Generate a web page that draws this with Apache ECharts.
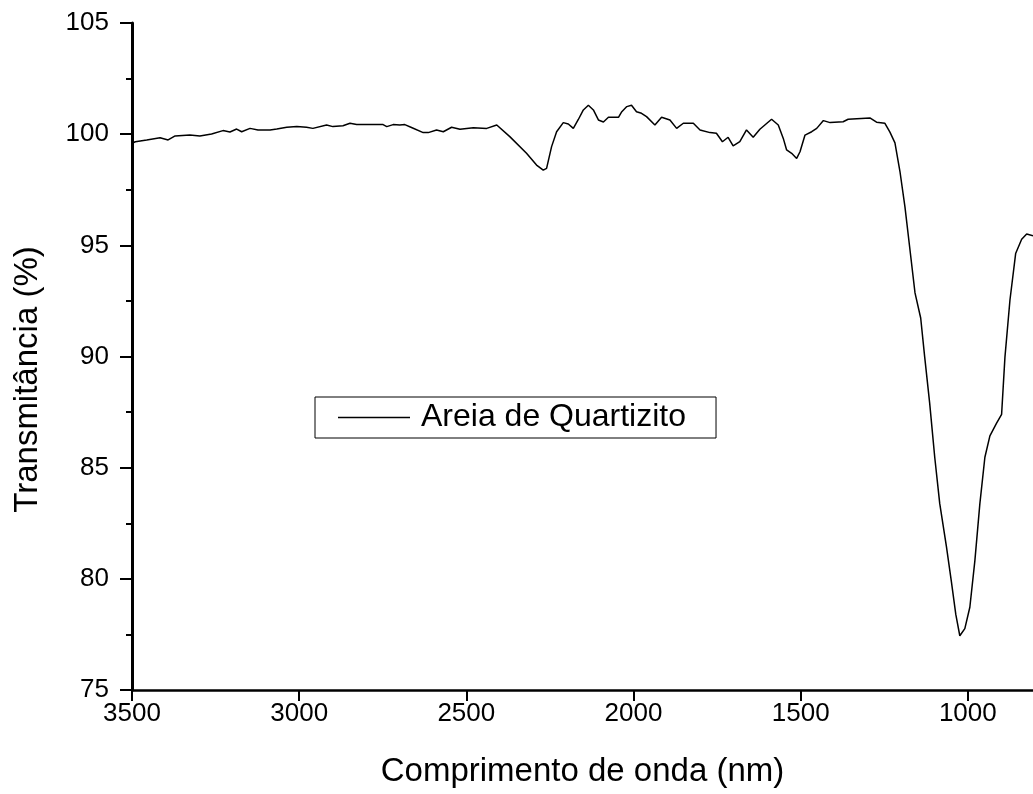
<!DOCTYPE html>
<html>
<head>
<meta charset="utf-8">
<script src="https://cdn.jsdelivr.net/npm/echarts@6/dist/echarts.min.js"></script>
<style>
  html, body { margin: 0; padding: 0; background: #fff; overflow: hidden; }
  #chart { width: 1033px; height: 794px; }
</style>
</head>
<body>
<div id="chart"></div>
<script>
// FTIR-style transmittance spectrum of quartzite sand
const seriesName = 'Areia de Quartizito';
const xTitle = 'Comprimento de onda (nm)';
const yTitle = 'Transmitância (%)';

const wavelength = [
  3500, 3490, 3456, 3416, 3392, 3371, 3327, 3297, 3262, 3228, 3207, 3187, 3172, 3147, 3123,
  3087, 3067, 3037, 3007, 2978, 2959, 2918, 2899, 2869, 2848, 2828, 2749, 2738, 2719, 2699,
  2684, 2664, 2629, 2614, 2589, 2569, 2544, 2519, 2479, 2439, 2409, 2370, 2320, 2290, 2270,
  2260, 2245, 2230, 2210, 2195, 2180, 2165, 2150, 2135, 2120, 2105, 2090, 2075, 2045, 2035,
  2020, 2006, 1991, 1976, 1961, 1936, 1916, 1891, 1871, 1851, 1821, 1801, 1771, 1752, 1734,
  1717, 1702, 1682, 1662, 1642, 1622, 1587, 1567, 1552, 1542, 1527, 1512, 1502, 1487, 1467,
  1452, 1432, 1412, 1373, 1358, 1293, 1273, 1248, 1233, 1218, 1203, 1188, 1173, 1158, 1141,
  1129, 1114, 1099, 1084, 1064, 1049, 1036, 1024, 1009, 994, 979, 964, 949, 934, 914,
  899, 889, 874, 857, 839, 824, 805
];

const transmittance = [
  99.59, 99.66, 99.74, 99.84, 99.74, 99.92, 99.96, 99.92, 100.01, 100.16, 100.10, 100.23, 100.11, 100.26, 100.19,
  100.19, 100.23, 100.31, 100.34, 100.31, 100.26, 100.41, 100.34, 100.38, 100.49, 100.43, 100.43, 100.34, 100.43, 100.41,
  100.43, 100.30, 100.07, 100.07, 100.19, 100.11, 100.31, 100.22, 100.29, 100.26, 100.41, 99.89, 99.14, 98.61, 98.38,
  98.46, 99.44, 100.11, 100.52, 100.46, 100.26, 100.66, 101.09, 101.30, 101.09, 100.64, 100.55, 100.76, 100.76, 101.01,
  101.24, 101.30, 101.01, 100.94, 100.79, 100.41, 100.76, 100.64, 100.26, 100.49, 100.49, 100.19, 100.07, 100.04, 99.66,
  99.86, 99.47, 99.66, 100.19, 99.86, 100.22, 100.67, 100.41, 99.81, 99.29, 99.14, 98.91, 99.21, 99.96, 100.11,
  100.26, 100.61, 100.52, 100.56, 100.67, 100.73, 100.54, 100.49, 100.09, 99.61, 98.32, 96.72, 94.79, 92.86, 91.73,
  89.97, 87.88, 85.47, 83.38, 81.45, 79.85, 78.40, 77.44, 77.76, 78.72, 80.81, 83.38, 85.47, 86.43, 87.00,
  87.40, 89.97, 92.54, 94.63, 95.27, 95.51, 95.43
];

const xTicks = { min: 500, max: 3500, step: 500 };
const yTicks = { min: 75, max: 105, step: 5 };

const points = wavelength.map((w, i) => [w, transmittance[i]]);

const FONT = '"Liberation Sans", Arial, sans-serif';
const plainNumber = (v) => String(v);
const chart = echarts.init(document.getElementById('chart'), null, { renderer: 'canvas' });

chart.setOption({
  animation: false,
  backgroundColor: '#ffffff',
  grid: {
    left: 132, top: 23, width: 1003, height: 667,
    containLabel: false,
    outerBoundsMode: 'none'
  },
  legend: {
    data: [{ name: seriesName, icon: 'rect' }],
    left: 315,
    top: 397,
    orient: 'horizontal',
    itemWidth: 72,
    itemHeight: 1.5,
    padding: [4, 30, 4, 23],
    borderColor: '#000',
    borderWidth: 1,
    backgroundColor: '#fff',
    itemStyle: { color: '#000', borderWidth: 0 },
    textStyle: { fontFamily: FONT, fontSize: 32, color: '#000', lineHeight: 33, padding: [0, 0, 0, 6] }
  },
  xAxis: {
    type: 'value',
    inverse: true,
    min: xTicks.min,
    max: xTicks.max,
    interval: xTicks.step,
    name: xTitle,
    nameLocation: 'middle',
    nameGap: 65,
    // the visible plot stops at the page edge, so centre the title on that part
    nameTextStyle: { fontFamily: FONT, fontSize: 33, color: '#000', padding: [0, 102, 0, 0] },
    axisLine: { show: true, lineStyle: { color: '#000', width: 2.5 } },
    axisTick: { show: true, inside: false, length: 11, lineStyle: { color: '#000', width: 2 } },
    axisLabel: { fontFamily: FONT, fontSize: 26, color: '#000', margin: 11, formatter: plainNumber },
    splitLine: { show: false }
  },
  yAxis: {
    type: 'value',
    min: yTicks.min,
    max: yTicks.max,
    interval: yTicks.step,
    name: yTitle,
    nameLocation: 'middle',
    nameGap: 88,
    nameRotate: 90,
    nameTextStyle: { fontFamily: FONT, fontSize: 33, color: '#000', padding: [0, 46, 0, 0] },
    axisLine: { show: true, lineStyle: { color: '#000', width: 3 } },
    axisTick: { show: true, inside: false, length: 12, lineStyle: { color: '#000', width: 2 } },
    minorTick: { show: true, splitNumber: 2, length: 6, lineStyle: { color: '#000', width: 2 } },
    axisLabel: { fontFamily: FONT, fontSize: 26, color: '#000', margin: 23, formatter: plainNumber },
    splitLine: { show: false }
  },
  series: [{
    name: seriesName,
    type: 'line',
    data: points,
    symbol: 'none',
    smooth: false,
    lineStyle: { color: '#000', width: 1.5 },
    itemStyle: { color: '#000' }
  }]
});
</script>
</body>
</html>
